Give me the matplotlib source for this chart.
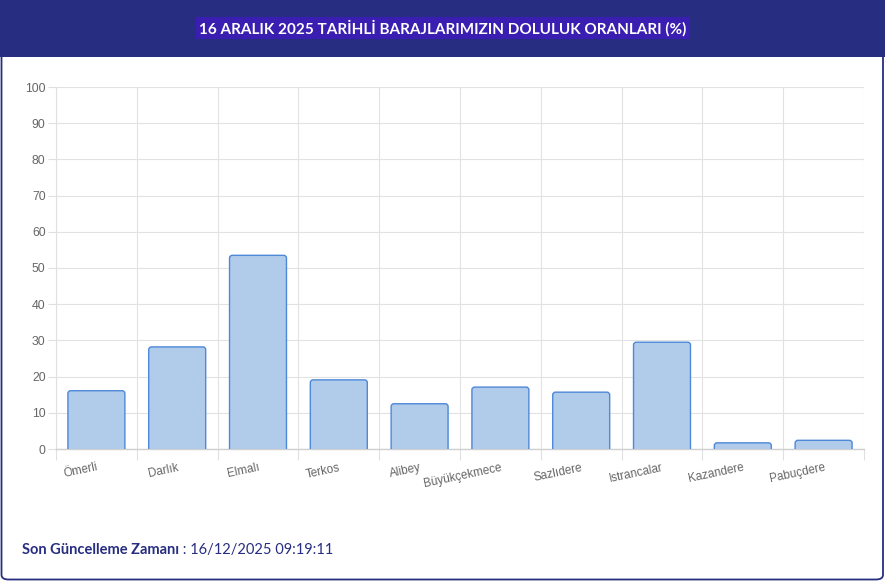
import matplotlib
matplotlib.use("Agg")
import matplotlib.pyplot as plt
from matplotlib.patches import FancyBboxPatch, Rectangle

categories = ["Ömerli", "Darlık", "Elmalı", "Terkos", "Alibey", "Büyükçekmece",
              "Sazlıdere", "Istrancalar", "Kazandere", "Pabuçdere"]
values = [16.1, 28.2, 53.5, 19.1, 12.5, 17.1, 15.7, 29.5, 1.7, 2.4]
y_ticks = [0, 10, 20, 30, 40, 50, 60, 70, 80, 90, 100]
title = "16 ARALIK 2025 TARİHLİ BARAJLARIMIZIN DOLULUK ORANLARI (%)"
footer_bold = "Son Güncelleme Zamanı"
footer_regular = " : 16/12/2025 09:19:11"

W, H = 887, 581
fig = plt.figure(figsize=(W / 100, H / 100), dpi=100)
fig.patch.set_facecolor("white")

navy = "#272d80"
# card border
card = FancyBboxPatch((1.5 / W, 1.5 / H), (883 - 1.5) / W, (579 - 1.5) / H,
                      boxstyle="round,pad=0,rounding_size=0.008",
                      transform=fig.transFigure, facecolor="none",
                      edgecolor=navy, linewidth=1.3, zorder=-1)
fig.patches.append(card)
# header band
header = Rectangle((0, 1 - 57 / H), 885 / W, 57 / H, transform=fig.transFigure,
                   facecolor=navy, edgecolor="none", zorder=-1)
fig.patches.append(header)
fig.text(443 / W, 1 - 28 / H, title, color="white", fontsize=11,
         fontweight="bold", family=["Lato", "DejaVu Sans"], ha="center", va="center",
         bbox=dict(boxstyle="square,pad=0.2", facecolor="#3a1eb2", edgecolor="none"),
         zorder=2)

left, right = 56 / W, 864 / W
bottom, top = 1 - 449 / H, 1 - 87 / H
ax = fig.add_axes([left, bottom, right - left, top - bottom])
ax.set_zorder(5)
ax.patch.set_alpha(0)
ax.set_xlim(-0.5, len(categories) - 0.5)
ax.set_ylim(0, 100)

x = list(range(len(categories)))
bars = ax.bar(x, values, width=0.705, color="none", edgecolor="none")
fill = "#b1cbea"
edge = "#4d88d9"
for b in bars:
    bx, by = b.get_x(), b.get_y()
    bw, bh = b.get_width(), b.get_height()
    rr = 0.035
    asp = 22.0
    p = FancyBboxPatch((bx, by - 2), bw, bh + 2,
                       boxstyle=f"round,pad=0,rounding_size={rr}",
                       mutation_aspect=asp, facecolor=fill, edgecolor=edge,
                       linewidth=1.0, zorder=3, clip_on=True)
    ax.add_patch(p)
    p.set_clip_path(ax.patch)

ax.set_yticks(y_ticks)
ax.set_yticklabels([str(t) for t in y_ticks])
ax.set_xticks([i - 0.5 for i in range(len(categories) + 1)], minor=False)
ax.set_xticklabels([""] * (len(categories) + 1))
ax.set_xticks(x, minor=True)
ax.set_xticklabels(categories, minor=True, rotation=12, ha="right",
                   rotation_mode="anchor")
ax.tick_params(axis="x", which="minor", length=0, pad=9, labelsize=8.5,
               labelcolor="#666666")
ax.tick_params(axis="x", which="major", length=8, color="#e0e0e0", width=0.8)
ax.tick_params(axis="y", length=6, color="#e0e0e0", width=0.8, pad=1.5,
               labelsize=8.8, labelcolor="#666666")
for lab in ax.get_xticklabels(minor=True) + ax.get_yticklabels():
    lab.set_family(["Liberation Sans", "DejaVu Sans"])

ax.grid(True, which="major", color="#e2e2e2", linewidth=0.8, zorder=0)
ax.set_axisbelow(True)
for s in ["top", "right"]:
    ax.spines[s].set_visible(False)
ax.spines["left"].set_color("#e0e0e0")
ax.spines["bottom"].set_color("#cfcfcf")
ax.spines["bottom"].set_linewidth(1.0)
ax.spines["left"].set_linewidth(0.8)

t1 = fig.text(22 / W, 1 - 550 / H, footer_bold, color=navy, fontsize=10.5,
              fontweight="bold", family=["Lato", "DejaVu Sans"], va="center")
fig.canvas.draw()
bb = t1.get_window_extent()
fig.text(bb.x1 / W, 1 - 550 / H, footer_regular, color=navy, fontsize=10.5,
         family=["Lato", "DejaVu Sans"], va="center")

fig.savefig("out.png", dpi=100)
